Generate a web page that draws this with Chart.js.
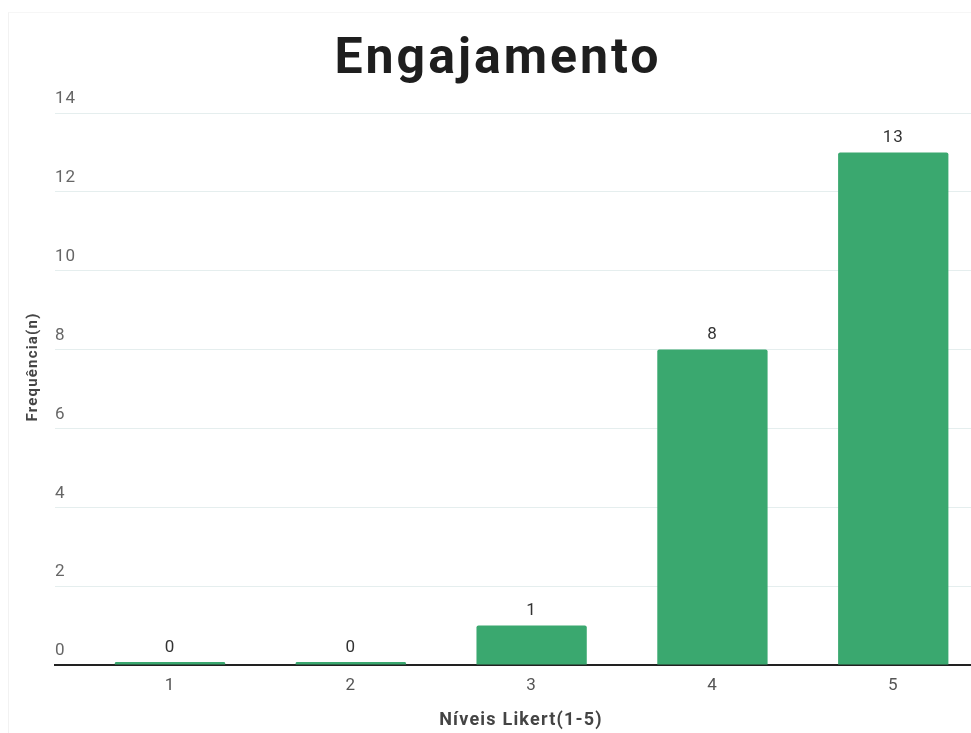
<!DOCTYPE html>
<html>
<head>
<meta charset="utf-8">
<title>Engajamento</title>
<script src="https://cdn.jsdelivr.net/npm/chart.js@4.4.1/dist/chart.umd.min.js"></script>
<style>
  html, body { margin: 0; padding: 0; background: #fff; }
  #wrap { position: relative; width: 971px; height: 733px; }
  #wrap::before { content: ''; position: absolute; left: 8px; top: 12px; right: 0; bottom: 0;
    border-left: 1px solid #f2f2f2; border-top: 1px solid #f6f6f6; pointer-events: none; }
</style>
</head>
<body>
<div id="wrap"><canvas id="chart"></canvas></div>
<script>
const levels = [1, 2, 3, 4, 5];
const counts = [0, 0, 1, 8, 13];
const yTicks = [0, 2, 4, 6, 8, 10, 12, 14];

const chartTitle = 'Engajamento';
const xTitle = 'Níveis Likert(1-5)';
const yTitle = 'Frequência(n)';
const barGreen = '#3aa86f';

// slightly spaced lettering for all chart text
const spacing = {
    id: 'spacing',
    beforeLayout(chart) { chart.ctx.letterSpacing = '1px'; },
    beforeDraw(chart) { chart.ctx.letterSpacing = '1px'; }
};

// heading and axis titles drawn by hand
const titles = {
    id: 'titles',
    afterDraw(chart) {
        const ctx = chart.ctx;
        ctx.save();
        ctx.textAlign = 'center';
        ctx.fillStyle = '#1e1e1e';
        ctx.font = 'bold 50px Roboto';
        ctx.letterSpacing = '3px';
        ctx.textBaseline = 'alphabetic';
        ctx.fillText(chartTitle, 498, 73);

        ctx.fillStyle = '#444';
        ctx.font = 'bold 18px Roboto';
        ctx.letterSpacing = '1.2px';
        ctx.textBaseline = 'middle';
        ctx.fillText(xTitle, 521, 720);

        ctx.font = 'bold 15px Roboto';
        ctx.letterSpacing = '1.2px';
        ctx.translate(33, 367);
        ctx.rotate(-Math.PI / 2);
        ctx.fillText(yTitle, 0, 0);
        ctx.restore();
    }
};

// value printed above each bar
const valueLabels = {
    id: 'valueLabels',
    afterDatasetsDraw(chart) {
        const ctx = chart.ctx;
        const meta = chart.getDatasetMeta(0);
        ctx.save();
        ctx.font = '17px Roboto';
        ctx.fillStyle = '#333';
        ctx.textAlign = 'center';
        ctx.textBaseline = 'bottom';
        meta.data.forEach((bar, i) => {
            ctx.fillText(String(counts[i]), bar.x, bar.y - 6);
        });
        ctx.restore();
    }
};

// eslint-disable-next-line no-unused-vars
const chart = new Chart(document.getElementById('chart'), {
    type: 'bar',
    data: {
        datasets: [{
            data: levels.map((lv, i) => ({ x: lv, y: counts[i] })),
            backgroundColor: barGreen,
            borderRadius: 2,
            borderSkipped: 'bottom',
            minBarLength: 3,
            categoryPercentage: 1,
            barPercentage: 0.61
        }]
    },
    options: {
        responsive: true,
        maintainAspectRatio: false,
        animation: false,
        layout: { padding: { left: 20, right: 0, top: 113, bottom: 1 } },
        plugins: {
            legend: { display: false },
            tooltip: { enabled: false },
            title: { display: false }
        },
        scales: {
            x: {
                type: 'linear',
                offset: false,
                min: 0.364,
                max: 5.43,
                afterBuildTicks: s => { s.ticks = levels.map(v => ({ value: v })); },
                afterFit: s => { s.height = 67; },
                grid: { display: false, drawTicks: false, offset: false },
                border: { display: true, color: '#222', width: 2 },
                ticks: {
                    color: '#555',
                    font: { family: 'Roboto', size: 17 },
                    padding: 11,
                    callback: v => String(v)
                }
            },
            y: {
                min: 0,
                max: 14,
                afterBuildTicks: s => { s.ticks = yTicks.map(v => ({ value: v })); },
                afterFit: s => { s.width = 35; },
                grid: {
                    drawTicks: false,
                    color: c => c.tick && c.tick.value === 0 ? 'rgba(0,0,0,0)' : '#e5eeee'
                },
                border: { display: false },
                ticks: {
                    mirror: true,
                    padding: 0,
                    labelOffset: -14,
                    color: '#666',
                    font: { family: 'Roboto', size: 17 }
                }
            }
        }
    },
    plugins: [spacing, valueLabels, titles]
});
</script>
</body>
</html>
